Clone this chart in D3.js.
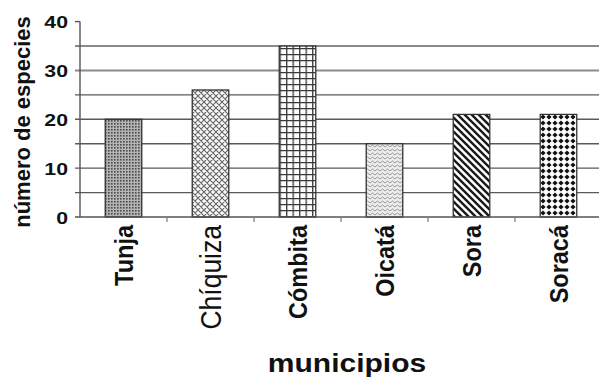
<!DOCTYPE html>
<html>
<head>
<meta charset="utf-8">
<script src="https://cdn.jsdelivr.net/npm/d3@7/dist/d3.min.js"></script>
<style>
  html, body { margin: 0; padding: 0; background: #fff; }
  svg { display: block; }
  text { font-family: "Liberation Sans", Arial, sans-serif; fill: #111; }
</style>
</head>
<body>
<svg id="chart" width="599" height="377"></svg>
<script>
// Species counts per municipality
const municipios = ["Tunja", "Chíquiza", "Cómbita", "Oicatá", "Sora", "Soracá"];
const especies = [20, 26, 35, 15, 21, 21];
const fills = ["dots", "diamonds", "grid", "zigzag", "stripes", "bigdots"];
const yTickLabels = [0, 10, 20, 30, 40];
const gridValues = [5, 10, 15, 20, 25, 30, 35];

const svg = d3.select("#chart");
const W = 599, H = 377;
const plotLeft = 80, plotRight = 602, plotTop = 21.6, plotBottom = 217;

const x = d3.scaleBand().domain(municipios).range([plotLeft, plotRight])
  .paddingInner(0.58).paddingOuter(0.29);
const y = d3.scaleLinear().domain([0, 40]).range([plotBottom, plotTop]);

// Hatch fills
const defs = svg.append("defs");
function pat(id, w, h, bg) {
  const p = defs.append("pattern").attr("id", id)
    .attr("patternUnits", "userSpaceOnUse").attr("width", w).attr("height", h);
  p.append("rect").attr("width", w).attr("height", h).attr("fill", bg);
  return p;
}
let p = pat("dots", 3, 3, "#b4b4b4");
p.append("rect").attr("x", 0).attr("y", 0).attr("width", 1.6).attr("height", 1.6).attr("fill", "#4a4a4a");

p = pat("diamonds", 6, 6, "#fafafa");
p.append("path").attr("d", "M0,0 L6,6 M6,0 L0,6 M-1,5 L1,7 M5,-1 L7,1 M-1,1 L1,-1 M5,7 L7,5")
  .attr("stroke", "#666").attr("stroke-width", 1.1).attr("fill", "none");

p = pat("grid", 6.5, 6, "#fff");
p.append("path").attr("d", "M0.7,0 V6 M0,0.7 H6.5")
  .attr("stroke", "#3a3a3a").attr("stroke-width", 1.3).attr("fill", "none");

p = pat("zigzag", 5, 4, "#ececec");
p.append("path").attr("d", "M0,3 L2.5,1 L5,3")
  .attr("stroke", "#9a9a9a").attr("stroke-width", 1).attr("fill", "none");

p = pat("stripes", 7, 7, "#fff");
p.append("path").attr("d", "M-2,-2 L9,9 M-2,5 L2,9 M5,-2 L9,2")
  .attr("stroke", "#1a1a1a").attr("stroke-width", 2.4).attr("fill", "none");

p = pat("bigdots", 6, 6, "#fff");
p.append("path").attr("d", "M3,0.4 L5.6,3 L3,5.6 L0.4,3 Z").attr("fill", "#111");

// Horizontal gridlines (every 5); the upper two print a little lighter
svg.append("g").selectAll("line").data(gridValues).join("line")
  .attr("x1", plotLeft - 5).attr("x2", W)
  .attr("y1", d => y(d)).attr("y2", d => y(d))
  .attr("stroke", d => d >= 30 ? "#8a8a8a" : "#5a5a5a")
  .attr("stroke-width", d => d >= 30 ? 2 : 1.4);

// Bars
svg.append("g").selectAll("rect").data(municipios).join("rect")
  .attr("x", d => x(d)).attr("width", x.bandwidth())
  .attr("y", (d, i) => y(especies[i]))
  .attr("height", (d, i) => y(0) - y(especies[i]))
  .attr("fill", (d, i) => `url(#${fills[i]})`)
  .attr("stroke", "#333").attr("stroke-width", 1.3);

// Axes
const axisColor = "#555";
svg.append("line").attr("x1", plotLeft).attr("x2", plotLeft)
  .attr("y1", y(40)).attr("y2", y(0)).attr("stroke", axisColor).attr("stroke-width", 1.4);
svg.append("line").attr("x1", plotLeft - 5).attr("x2", plotLeft)
  .attr("y1", y(40)).attr("y2", y(40)).attr("stroke", axisColor).attr("stroke-width", 1.4);
svg.append("line").attr("x1", plotLeft - 5).attr("x2", W)
  .attr("y1", y(0)).attr("y2", y(0)).attr("stroke", axisColor).attr("stroke-width", 1.4);
// Category separators on the x axis
const sep = d3.range(1, municipios.length).map(i => plotLeft + i * x.step());
svg.append("g").selectAll("line").data(sep).join("line")
  .attr("x1", d => d).attr("x2", d => d)
  .attr("y1", y(0)).attr("y2", y(0) + 5)
  .attr("stroke", "#777").attr("stroke-width", 1.2);

// Y tick labels
svg.append("g").selectAll("g").data(yTickLabels).join("g")
  .attr("transform", d => `translate(${plotLeft - 12},${y(d) + 6.5})`)
  .append("text").attr("transform", "scale(1.25,1)")
  .attr("text-anchor", "end").attr("font-size", 17).attr("font-weight", "bold")
  .text(d => d);

// Category labels (vertical)
svg.append("g").selectAll("text").data(municipios).join("text")
  .attr("transform", d => `translate(${x(d) + x.bandwidth() / 2},225) scale(1.12,1) rotate(-90)`)
  .attr("text-anchor", "end").attr("dy", "0.36em")
  .attr("font-size", d => d === "Chíquiza" ? 26.5 : 23.5)
  .attr("font-weight", d => d === "Chíquiza" ? "normal" : "bold")
  .text(d => d);

// Axis titles
svg.append("text")
  .attr("transform", "translate(30,122) rotate(-90)")
  .attr("text-anchor", "middle").attr("font-size", 22).attr("font-weight", "bold")
  .text("número de especies");

svg.append("g").attr("transform", "translate(347,372)")
  .append("text").attr("transform", "scale(1.2,1)")
  .attr("text-anchor", "middle").attr("font-size", 25).attr("font-weight", "bold")
  .text("municipios");
</script>
</body>
</html>
